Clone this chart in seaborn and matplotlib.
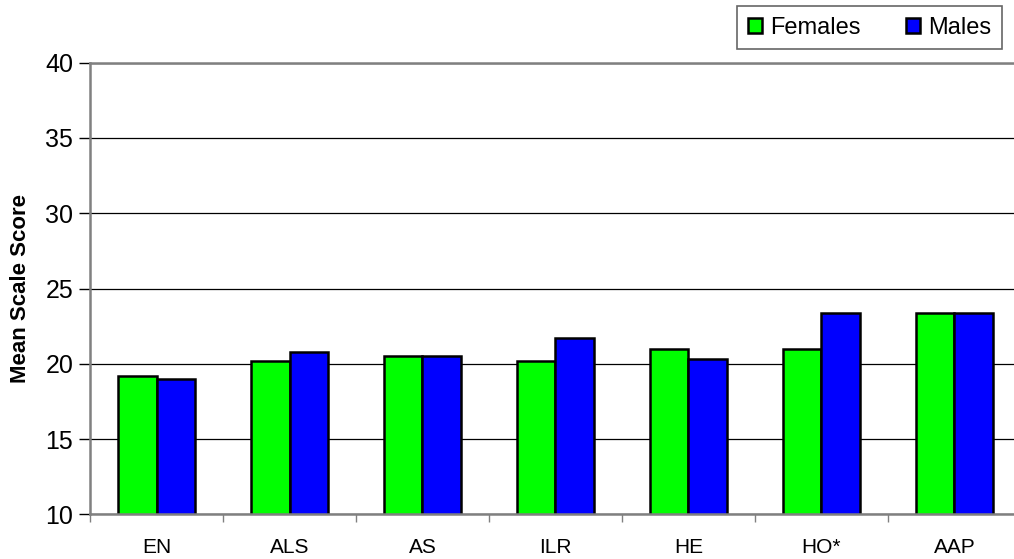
import pandas as pd
import numpy as np
import matplotlib.pyplot as plt
import seaborn as sns

categories = ['EN', 'ALS', 'AS', 'ILR', 'HE', 'HO*', 'AAP']
females = [19.2, 20.2, 20.5, 20.2, 21.0, 21.0, 23.4]
males = [19.0, 20.8, 20.5, 21.7, 20.3, 23.4, 23.4]

df = pd.DataFrame({
    'cat': categories * 2,
    'score': females + males,
    'group': ['Females'] * len(categories) + ['Males'] * len(categories),
})

sns.set_style('white')
plt.rcParams['font.family'] = ['Liberation Sans', 'DejaVu Sans']
plt.rcParams['text.color'] = 'black'
plt.rcParams['axes.labelcolor'] = 'black'
plt.rcParams['xtick.labelcolor'] = 'black'
plt.rcParams['ytick.labelcolor'] = 'black'

fig = plt.figure(figsize=(10.14, 5.59), dpi=100)
ax = fig.add_axes([90 / 1014, 1 - 514.3 / 559, 931 / 1014, (514.3 - 62.7) / 559])

sns.barplot(data=df, x='cat', y='score', hue='group', order=categories,
            palette={'Females': '#00FF00', 'Males': '#0000FF'},
            width=0.58, edgecolor='black', linewidth=1.8, saturation=1,
            ax=ax, legend=True)

ax.set_xlim(-0.5, 6.5)
ax.set_ylim(10, 40)
ax.set_yticks([10, 15, 20, 25, 30, 35, 40])
ax.yaxis.grid(True, color='black', linewidth=0.9)
ax.set_axisbelow(True)

# tick marks sit between categories, labels at centres
ax.set_xticks(np.arange(-0.5, 7, 1), minor=True)
ax.tick_params(axis='x', which='major', length=0, labelsize=15, pad=17)
ax.tick_params(axis='x', which='minor', length=6, width=1, color='#808080', direction='out', bottom=True)
ax.tick_params(axis='y', length=8, width=1, color='black', direction='out', left=True, labelsize=18, pad=4)

for side in ['left', 'bottom', 'top']:
    ax.spines[side].set_color('#808080')
    ax.spines[side].set_linewidth(1.8)
ax.spines['right'].set_visible(False)

ax.set_xlabel('')
ax.set_ylabel('Mean Scale Score', fontsize=16, fontweight='bold', labelpad=10)

handles, labels = ax.get_legend_handles_labels()
ax.get_legend().remove()
leg = fig.legend(handles, labels, loc='upper right', bbox_to_anchor=(1002 / 1014, 1 - 6 / 559),
                 ncol=2, fontsize=17, frameon=True, fancybox=False, handlelength=0.6,
                 handleheight=0.6, handletextpad=0.35, columnspacing=1.9, borderpad=0.45,
                 borderaxespad=0)
leg.get_frame().set_edgecolor('#404040')
leg.get_frame().set_linewidth(1.2)

fig.savefig('out.png', dpi=100)
